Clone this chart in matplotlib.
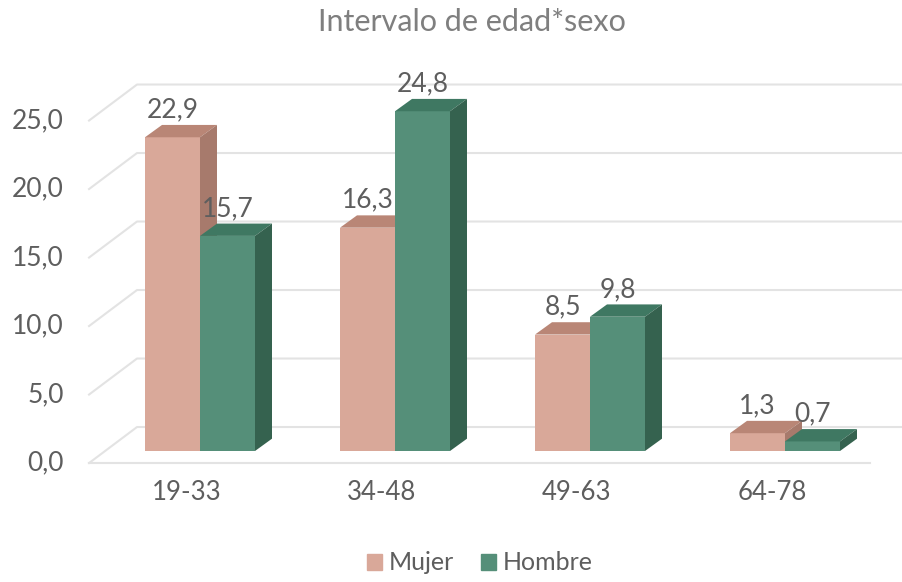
import matplotlib
matplotlib.use("Agg")
import matplotlib.pyplot as plt
from matplotlib.patches import Polygon

# Datos
categorias = ["19-33", "34-48", "49-63", "64-78"]
mujer = [22.9, 16.3, 8.5, 1.3]
hombre = [15.7, 24.8, 9.8, 0.7]
ticks_y = [0, 5, 10, 15, 20, 25]

# Colores (frente, tapa, lateral)
col_mujer = ("#D9A899", "#B98676", "#A77A6C")
col_hombre = ("#558F79", "#3F7862", "#35624F")
gris_txt = "#5E5E5E"
gris_grid = "#E3E3E3"

plt.rcParams['font.family'] = ['Lato', 'DejaVu Sans']

fig = plt.figure(figsize=(9.02, 5.82), dpi=100)
ax = fig.add_axes([0, 0, 1, 1])
# 1 unidad x = 195 px (una categoria), 1 unidad y = 13.7 px
ax.set_xlim(-200 / 195, 702 / 195)
ax.set_ylim(-131 / 13.7, 451 / 13.7)
ax.axis('off')

w = 55 / 195          # ancho de barra
dx, dy = 17 / 195, 0.9   # profundidad de la barra
fx, fy = -0.569, -0.88   # borde frontal del suelo
bx, by = -0.323, 1.75    # pared del fondo
x_fin = 3.6

# rejilla en la pared y diagonales
for t in ticks_y:
    ax.plot([fx, bx, x_fin], [t + fy, t + by, t + by], color=gris_grid, lw=1.5, zorder=1)
    ax.text(fx - 0.13, t + fy, f"{t:.1f}".replace(".", ","), ha='right', va='center',
            fontsize=19, color=gris_txt)
ax.plot([fx, 3.436], [fy, fy], color=gris_grid, lw=1.5, zorder=1)


def barra(x0, h, cols):
    ax.bar(x0, h, width=w, align='edge', color=cols[0], zorder=3)
    tapa = [(x0, h), (x0 + w, h), (x0 + w + dx, h + dy), (x0 + dx, h + dy)]
    lado = [(x0 + w, 0), (x0 + w, h), (x0 + w + dx, h + dy), (x0 + w + dx, dy)]
    ax.add_patch(Polygon(tapa, closed=True, color=cols[1], zorder=3, lw=0))
    ax.add_patch(Polygon(lado, closed=True, color=cols[2], zorder=3, lw=0))
    ax.text(x0 + w / 2, h + 2.0, f"{h:.1f}".replace(".", ","), ha='center', va='center',
            fontsize=19, color=gris_txt, zorder=5)


for i, cat in enumerate(categorias):
    barra(i - w, mujer[i], col_mujer)
    barra(i, hombre[i], col_hombre)
    ax.text(i - 0.067, -3.0, cat, ha='center', va='center', fontsize=18.5, color=gris_txt)

# leyenda
h1 = plt.Rectangle((0, 0), 1, 1, color=col_mujer[0])
h2 = plt.Rectangle((0, 0), 1, 1, color=col_hombre[0])
fig.legend([h1, h2], ["Mujer", "Hombre"], loc='center', bbox_to_anchor=(0.532, 1 - 563 / 582),
           ncol=2, frameon=False, fontsize=18, handlelength=0.6, handleheight=0.6,
           handletextpad=0.25, columnspacing=1.1, labelcolor=gris_txt)

fig.text(472 / 902, 1 - 22 / 582, "Intervalo de edad*sexo", ha='center', va='center',
         fontsize=22, color="#7F7F7F")

fig.savefig("out.png", dpi=100)
